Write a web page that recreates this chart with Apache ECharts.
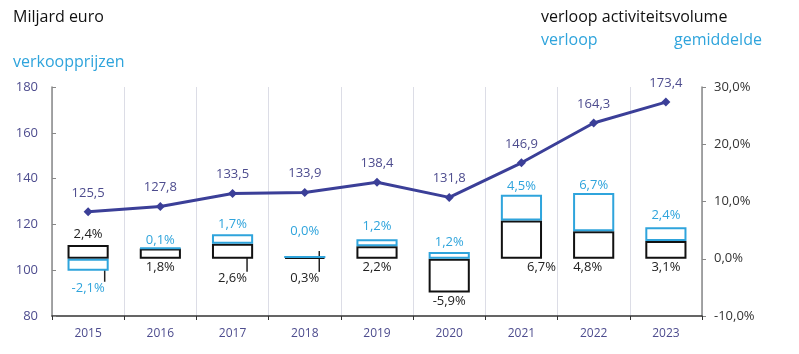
<!DOCTYPE html>
<html>
<head>
<meta charset="utf-8">
<script src="https://cdn.jsdelivr.net/npm/echarts@6/dist/echarts.min.js"></script>
<style>
  html, body { margin: 0; padding: 0; background: #fff; }
  #chart { width: 799px; height: 354px; }
</style>
</head>
<body>
<div id="chart"></div>
<script>
const years = ['2015', '2016', '2017', '2018', '2019', '2020', '2021', '2022', '2023'];
const turnover = [125.5, 127.8, 133.5, 133.9, 138.4, 131.8, 146.9, 164.3, 173.4];
const volumeChange = [2.4, 1.8, 2.6, 0.3, 2.2, -5.9, 6.7, 4.8, 3.1];
const priceChange = [-2.1, 0.1, 1.7, 0.0, 1.2, 1.2, 4.5, 6.7, 2.4];

const FONT = 'Open Sans';
const BLUE = '#2fa4dc';
const NAVY = '#3b3f98';
const PURPLE = '#4d4c8e';

// label tweaks per year (style only)
const volLabel = [
    { position: 'top', distance: 4 },
    { position: 'bottom', distance: 2 },
    { position: 'bottom', distance: 13, line: true },
    { position: 'bottom', distance: 13, line: true },
    { position: 'bottom', distance: 2 },
    { position: 'bottom', distance: 2 },
    { position: 'bottom', distance: 2, offset: [20, 0] },
    { position: 'bottom', distance: 2, offset: [-6, 0] },
    { position: 'bottom', distance: 2 }
];
const priceLabel = [
    { position: 'bottom', distance: 11, line: true },
    { position: 'top', distance: 0 },
    { position: 'top', distance: 3 },
    { position: 'top', distance: 18, line: true },
    { position: 'top', distance: 6 },
    { position: 'top', distance: 3 },
    { position: 'top', distance: 2 },
    { position: 'top', distance: 1 },
    { position: 'top', distance: 5 }
];

function pct(v) {
    return v.toFixed(1).replace('.', ',') + '%';
}

function barData(values, styles) {
    return values.map(function (v, i) {
        const s = styles[i];
        return {
            value: v,
            label: {
                position: s.position,
                distance: s.distance,
                offset: s.offset || [0, 0]
            },
            labelLine: { show: !!s.line }
        };
    });
}

const chart = echarts.init(document.getElementById('chart'), null, { renderer: 'canvas' });

const option = {
    animation: false,
    textStyle: { fontFamily: FONT },
    graphic: [
        { type: 'text', left: 13, top: 9, style: { text: 'Miljard euro', fill: '#111', font: '16px "Open Sans"' } },
        { type: 'text', left: 13, top: 54, style: { text: 'verkoopprijzen', fill: BLUE, font: '16px "Open Sans"' } },
        { type: 'text', left: 541, top: 9, style: { text: 'verloop activiteitsvolume', fill: '#111', font: '16px "Open Sans"' } },
        { type: 'text', left: 541, top: 32, style: { text: 'verloop', fill: BLUE, font: '16px "Open Sans"' } },
        { type: 'text', left: 674, top: 32, style: { text: 'gemiddelde', fill: BLUE, font: '16px "Open Sans"' } }
    ],
    grid: { left: 52, right: 97, top: 87, bottom: 38 },
    xAxis: {
        type: 'category',
        data: years,
        axisLine: { onZero: false, lineStyle: { color: '#333', width: 1.5 } },
        axisTick: { show: true, length: 4, lineStyle: { color: '#333' } },
        axisLabel: { color: PURPLE, fontSize: 12, margin: 12 },
        splitLine: { show: true, lineStyle: { color: '#dcdde6', width: 1 } }
    },
    yAxis: [{
        type: 'value',
        min: 80,
        max: 180,
        interval: 20,
        axisLine: { show: true, lineStyle: { color: '#888', width: 1.5 } },
        axisTick: { show: true, inside: true, length: 4, lineStyle: { color: '#888' } },
        axisLabel: { color: PURPLE, fontSize: 13, margin: 14 },
        splitLine: { show: false }
    }, {
        type: 'value',
        min: -10,
        max: 30,
        interval: 10,
        position: 'right',
        axisLine: { show: true, lineStyle: { color: '#888', width: 1.5 } },
        axisTick: { show: true, length: 4, lineStyle: { color: '#888' } },
        axisLabel: { color: '#333', fontSize: 13, margin: 12, formatter: pct },
        splitLine: { show: false }
    }],
    series: [{
        name: 'verloop activiteitsvolume',
        type: 'bar',
        yAxisIndex: 1,
        stack: 'v',
        barWidth: '57%',
        data: barData(volumeChange, volLabel),
        itemStyle: { color: '#fff', borderColor: '#111', borderWidth: 2 },
        label: {
            show: true,
            color: '#222',
            fontSize: 13,
            formatter: function (p) { return pct(p.value); }
        },
        labelLine: { lineStyle: { color: '#222', width: 1.5 } },
        z: 2
    }, {
        name: 'verloop gemiddelde verkoopprijzen',
        type: 'bar',
        yAxisIndex: 1,
        stack: 'v',
        barWidth: '57%',
        data: barData(priceChange, priceLabel),
        itemStyle: { color: 'rgba(255,255,255,0)', borderColor: BLUE, borderWidth: 2 },
        label: {
            show: true,
            color: BLUE,
            fontSize: 13,
            formatter: function (p) { return pct(p.value); }
        },
        labelLine: { lineStyle: { color: '#222', width: 1.5 } },
        z: 3
    }, {
        name: 'Miljard euro',
        type: 'line',
        yAxisIndex: 0,
        data: turnover,
        symbol: 'diamond',
        symbolSize: 9,
        lineStyle: { color: NAVY, width: 3 },
        itemStyle: { color: NAVY },
        label: {
            show: true,
            position: 'top',
            distance: 8,
            color: PURPLE,
            fontSize: 13,
            formatter: function (p) { return p.value.toFixed(1).replace('.', ','); }
        },
        z: 5
    }]
};

chart.setOption(option);
</script>
</body>
</html>
